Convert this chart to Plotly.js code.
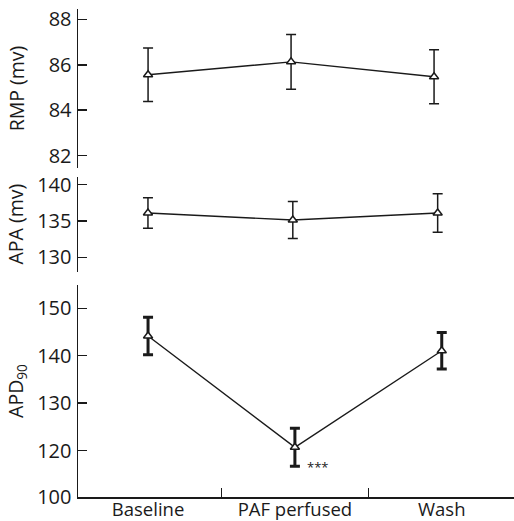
<!DOCTYPE html>
<html>
<head>
<meta charset="utf-8">
<script src="https://cdn.plot.ly/plotly-3.0.1.min.js"></script>
<style>html,body{margin:0;padding:0;background:#fff;}#chart{width:514px;height:521px;}</style>
</head>
<body>
<div id="chart"></div>
<script>
const categories = ["Baseline", "PAF perfused", "Wash"];
const rmpMean = [85.56, 86.13, 85.47];
const rmpErr = [1.18, 1.21, 1.19];
const apaMean = [136.1, 135.14, 136.1];
const apaErr = [2.1, 2.55, 2.65];
const apdMean = [144.16, 120.7, 141.05];
const apdErr = [3.95, 4.0, 3.85];
const apdTickVals = [110.3, 120, 130, 140, 150];
const apdTickText = ["100", "120", "130", "140", "150"];
const sigLabel = "***";

const font = "'Open Sans', 'DejaVu Sans', sans-serif";
const ink = "#1a1a1a";

function trace(y, err, xa, ya, thick) {
  return {
    type: "scatter", mode: "lines+markers",
    x: categories, y: y, xaxis: xa, yaxis: ya,
    line: {color: ink, width: 1.4},
    marker: {symbol: "triangle-up", size: 8, color: "#fff", line: {color: ink, width: 1.5}},
    error_y: {type: "data", array: err, visible: true, color: ink,
              thickness: thick ? 3 : 1.5, width: 5},
    showlegend: false, hoverinfo: "skip", cliponaxis: false
  };
}

const data = [
  trace(apdMean, apdErr, "x", "y", true),
  trace(apaMean, apaErr, "x2", "y2", false),
  trace(rmpMean, rmpErr, "x3", "y3", false)
];

const yBase = {
  showline: true, linecolor: ink, linewidth: 1.5,
  ticks: "inside", ticklen: 9, tickwidth: 1.5, tickcolor: ink,
  showgrid: false, zeroline: false,
  tickfont: {family: font, size: 20, color: ink},
  ticklabelstandoff: 1,
  fixedrange: true
};
const xHidden = {
  type: "category", showline: false, showgrid: false, zeroline: false,
  showticklabels: false, ticks: "", fixedrange: true
};
const titleFont = {family: font, size: 19.5, color: ink};

const layout = {
  width: 514, height: 521,
  margin: {l: 78, r: 0, t: 9, b: 24, pad: 0},
  paper_bgcolor: "#fff", plot_bgcolor: "#fff",
  font: {family: font, color: ink},
  xaxis: {
    type: "category", domain: [0, 1], anchor: "y",
    range: [-0.477, 2.492],
    showline: true, linecolor: ink, linewidth: 1.5,
    tickson: "boundaries", ticks: "inside", ticklen: 9, tickwidth: 1.5, tickcolor: ink,
    showgrid: false, zeroline: false,
    tickfont: {family: font, size: 18.5, color: ink},
    ticklabelstandoff: -5,
    fixedrange: true
  },
  xaxis2: Object.assign({}, xHidden, {domain: [0, 1], anchor: "y2", range: [-0.483, 2.527]}),
  xaxis3: Object.assign({}, xHidden, {domain: [0, 1], anchor: "y3", range: [-0.49, 2.559]}),
  yaxis: Object.assign({}, yBase, {
    domain: [0, 0.4344], anchor: "x", range: [110.23, 154.9],
    tickmode: "array", tickvals: apdTickVals, ticktext: apdTickText,
    title: {text: "APD<sub>90</sub>", font: titleFont, standoff: 8}
  }),
  yaxis2: Object.assign({}, yBase, {
    domain: [0.4617, 0.6564], anchor: "x2", range: [128.04, 141.1],
    tickmode: "array", tickvals: [130, 135, 140],
    title: {text: "APA (mv)", font: titleFont, standoff: 8}
  }),
  yaxis3: Object.assign({}, yBase, {
    domain: [0.6742, 1], anchor: "x3", range: [81.45, 88.46],
    tickmode: "array", tickvals: [82, 84, 86, 88],
    title: {text: "RMP (mv)", font: titleFont, standoff: 19}
  }),
  annotations: [{
    xref: "x", yref: "y", x: categories[1], y: apdMean[1] - apdErr[1],
    text: sigLabel, showarrow: false, xanchor: "left", yanchor: "middle",
    xshift: 10, yshift: -1,
    font: {family: font, size: 13, color: ink}
  }]
};

Plotly.newPlot("chart", data, layout, {displayModeBar: false, staticPlot: true});
</script>
</body>
</html>
